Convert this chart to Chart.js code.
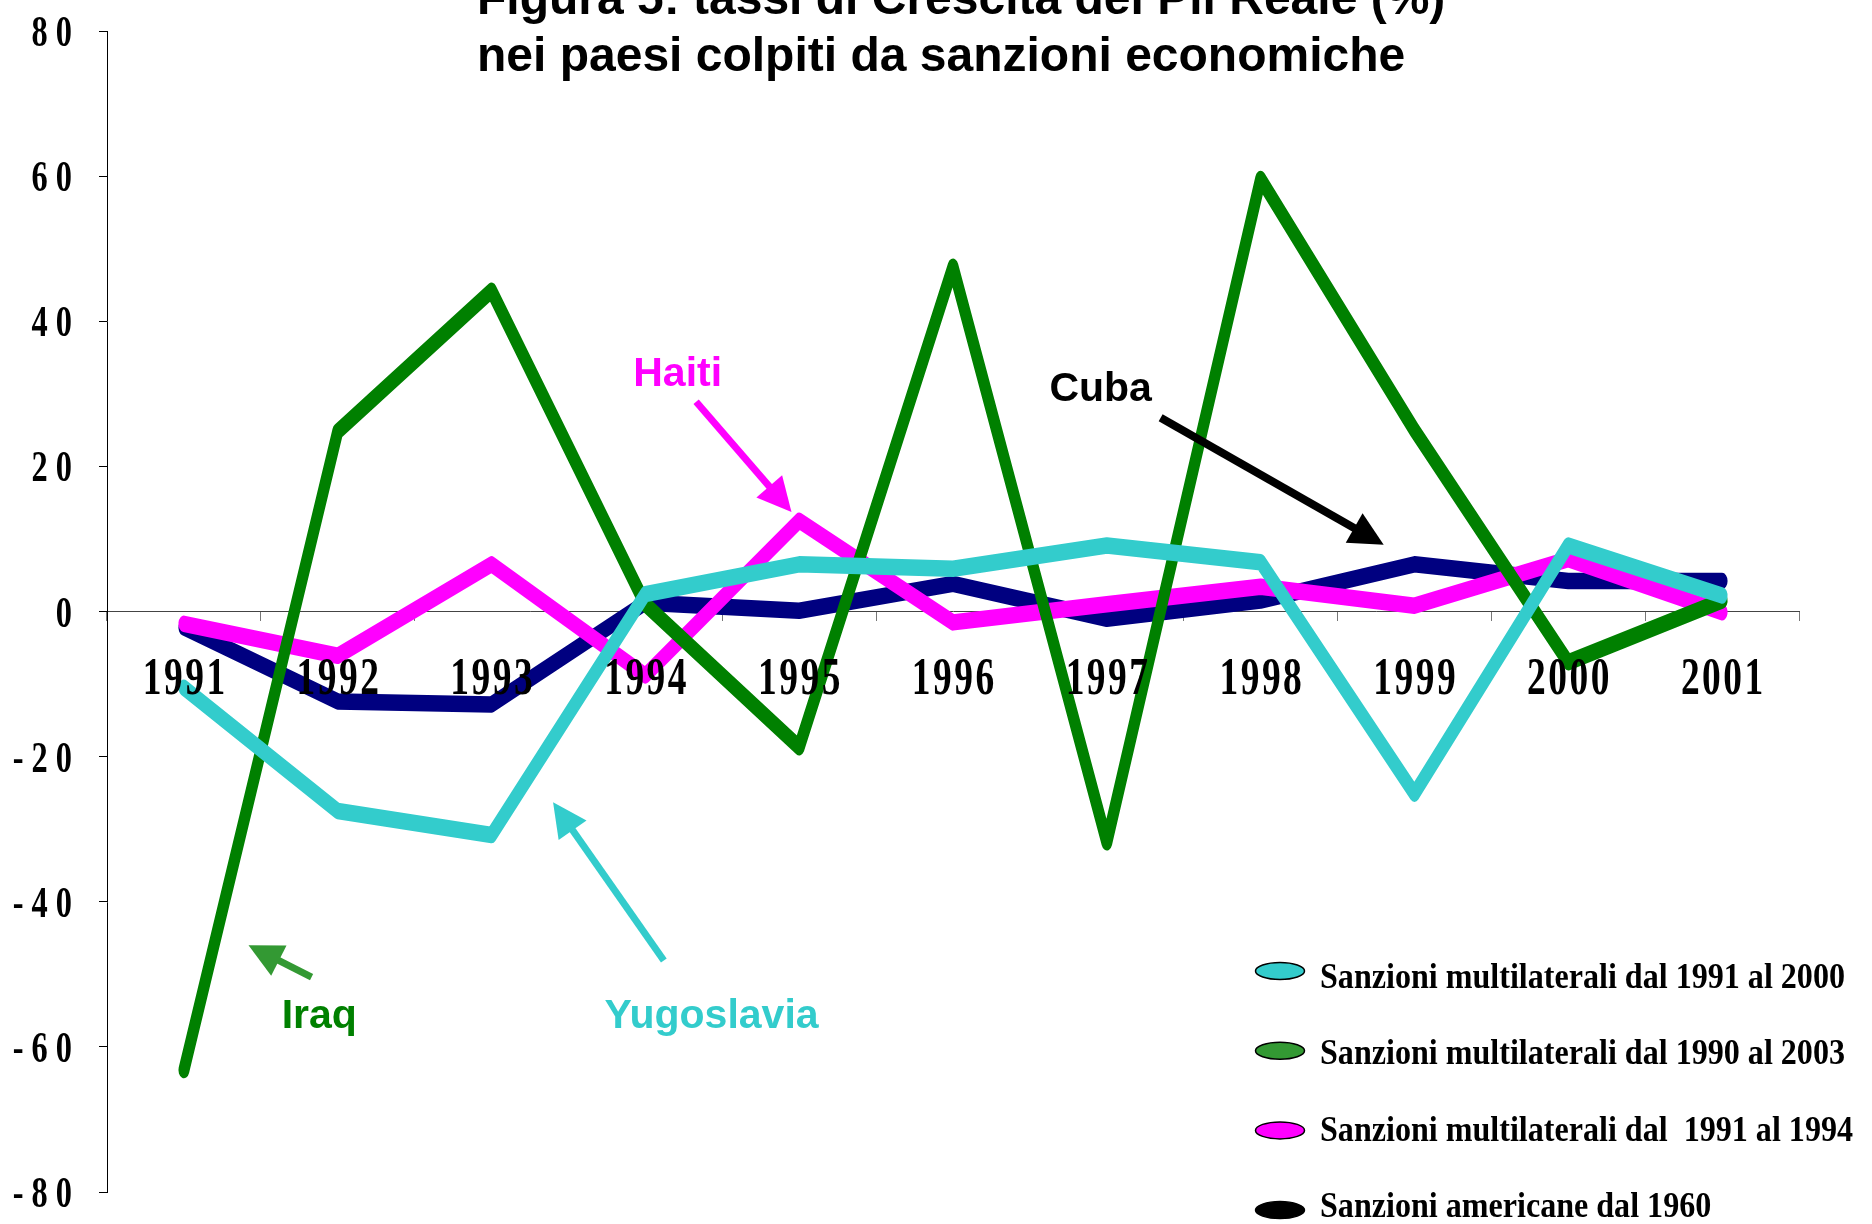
<!DOCTYPE html>
<html><head><meta charset="utf-8">
<script src="https://cdn.jsdelivr.net/npm/chart.js@4/dist/chart.umd.min.js"></script>
<style>html,body{margin:0;padding:0;background:#fff;overflow:hidden}#wrap{width:1872px;height:1224px;position:relative}</style>
</head><body><div id="wrap"><canvas id="c"></canvas></div>
<script>
// ---- data ----
const years = ['1991','1992','1993','1994','1995','1996','1997','1998','1999','2000','2001'];
const yugoslavia = [-10.5, -27.5, -30.8, 2.4, 6.5, 5.9, 9.1, 6.8, -25.1, 9.1, 2.2];
const iraq       = [-63.2, 24.8, 44.2, 1.0, -18.7, 47.5, -31.8, 59.6, 25.0, -7.0, 1.5];
const haiti      = [-1.7, -6.1, 6.5, -8.8, 12.5, -1.5, 1.0, 3.4, 0.8, 7.2, -0.1];
const cuba       = [-2.2, -12.4, -12.8, 1.2, 0.1, 3.8, -1.0, 1.5, 6.5, 4.2, 4.2];
const yMin = -80, yMax = 80, yStep = 20;
const legendLabels = [
  'Sanzioni multilaterali dal 1991 al 2000',
  'Sanzioni multilaterali dal 1990 al 2003',
  'Sanzioni multilaterali dal  1991 al 1994',
  'Sanzioni americane dal 1960'
];
const titleLines = ['Figura 5: tassi di Crescita del Pil Reale (%)', 'nei paesi colpiti da sanzioni economiche'];
const countryNames = ['Yugoslavia', 'Iraq', 'Haiti', 'Cuba'];
// annotation anchors in data space: [category index, value]
const labelAnchors = [[3.43, -57.4], [0.88, -57.4], [3.21, 31.1], [5.96, 29.0]];
const arrowFrom    = [[3.12, -48.1], [0.83, -50.4], [3.33, 28.9], [6.35, 26.7]];
const arrowTo      = [[2.40, -26.3], [0.42, -46.0], [3.95, 13.7], [7.80, 9.2]];

// ---- styles ----
const lineColors   = ['#33CCCC', '#008000', '#FF00FF', '#000080'];
const legendColors = ['#33CCCC', '#339933', '#FF00FF', '#000000'];
const noteColors   = ['#33CCCC', '#008000', '#FF00FF', '#000000'];
const arrowColors  = ['#33CCCC', '#339933', '#FF00FF', '#000000'];
const SERIF = '"Liberation Serif","Times New Roman",serif';
const SANS = '"Liberation Sans",Arial,sans-serif';
const STRETCH_Y = 1.5;

function spacedText(ctx, s, x, y, font, sx, spacing, align, color) {
  ctx.save();
  ctx.font = font; ctx.fillStyle = color; ctx.textAlign = 'left'; ctx.textBaseline = 'alphabetic';
  const chars = [...s];
  const w = chars.map(c => ctx.measureText(c).width * sx);
  const total = w.reduce((a, b) => a + b, 0) + spacing * (chars.length - 1);
  let cx = align === 'center' ? x - total / 2 : align === 'right' ? x - total : x;
  chars.forEach((c, i) => {
    ctx.save(); ctx.translate(cx, y); ctx.scale(sx, 1); ctx.fillText(c, 0, 0); ctx.restore();
    cx += w[i] + spacing;
  });
  ctx.restore();
}
function scaledText(ctx, s, x, y, font, sx, align, color) {
  ctx.save();
  ctx.font = font; ctx.fillStyle = color; ctx.textBaseline = 'alphabetic'; ctx.textAlign = 'left';
  const w = ctx.measureText(s).width * sx;
  const x0 = align === 'center' ? x - w / 2 : align === 'right' ? x - w : x;
  ctx.translate(x0, y); ctx.scale(sx, 1); ctx.fillText(s, 0, 0);
  ctx.restore();
}
function arrow(ctx, x1, y1, x2, y2, color, lw, hl, hw) {
  const a = Math.atan2(y2 - y1, x2 - x1);
  const bx = x2 - hl * Math.cos(a), by = y2 - hl * Math.sin(a);
  ctx.save();
  ctx.strokeStyle = color; ctx.fillStyle = color; ctx.lineWidth = lw; ctx.lineCap = 'butt';
  ctx.beginPath(); ctx.moveTo(x1, y1); ctx.lineTo(bx + 2 * Math.cos(a), by + 2 * Math.sin(a)); ctx.stroke();
  ctx.beginPath(); ctx.moveTo(x2, y2);
  ctx.lineTo(bx + hw * Math.sin(a), by - hw * Math.cos(a));
  ctx.lineTo(bx - hw * Math.sin(a), by + hw * Math.cos(a));
  ctx.closePath(); ctx.fill();
  ctx.restore();
}

// stroke lines with an anisotropic pen (thicker vertically) like the reference
const stretchPen = {
  id: 'stretchPen',
  beforeDatasetsDraw(chart) {
    const ctx = chart.ctx;
    const orig = ctx.stroke;
    ctx._origStroke = orig;
    ctx.stroke = function (p) {
      this.save();
      this.scale(1, STRETCH_Y);
      if (p instanceof Path2D) {
        const q = new Path2D();
        q.addPath(p, new DOMMatrix([1, 0, 0, 1 / STRETCH_Y, 0, 0]));
        orig.call(this, q);
      } else {
        orig.call(this);
      }
      this.restore();
    };
  },
  afterDatasetsDraw(chart) {
    const ctx = chart.ctx;
    if (ctx._origStroke) { ctx.stroke = ctx._origStroke; delete ctx._origStroke; }
  }
};

const decor = {
  id: 'decor',
  afterDraw(chart) {
    const ctx = chart.ctx;
    const xs = chart.scales.x, ys = chart.scales.y;
    const zero = ys.getPixelForValue(0);
    // x tick labels
    years.forEach((lab, i) => {
      spacedText(ctx, lab, xs.getPixelForValue(i), zero + 82, 'bold 52px ' + SERIF, 0.72, 2.5, 'center', '#000');
    });
    // y tick labels
    ys.ticks.forEach(t => {
      const py = ys.getPixelForValue(t.value);
      spacedText(ctx, String(t.value), 72, py + 15, 'bold 45px ' + SERIF, 0.72, 8, 'right', '#000');
    });
    // annotations
    countryNames.forEach((n, i) => {
      const [fi, fv] = arrowFrom[i], [ti, tv] = arrowTo[i];
      arrow(ctx, xs.getPixelForValue(fi), ys.getPixelForValue(fv), xs.getPixelForValue(ti), ys.getPixelForValue(tv),
        arrowColors[i], i === 3 ? 8 : 7, 34, 17);
      const [li, lv] = labelAnchors[i];
      scaledText(ctx, n, xs.getPixelForValue(li), ys.getPixelForValue(lv), 'bold 41px ' + SANS, 1, 'center', noteColors[i]);
    });
    // title
    titleLines.forEach((t, i) => {
      scaledText(ctx, t, 477, 14 + i * 57, 'bold 48px ' + SANS, 1, 'left', '#000');
    });
    // legend
    ctx.save();
    ctx.font = 'bold 35px ' + SERIF;
    const lsx = 525 / ctx.measureText(legendLabels[0]).width;
    ctx.restore();
    legendLabels.forEach((lab, i) => {
      const cy = 971 + i * 79.7;
      ctx.save();
      ctx.beginPath();
      ctx.ellipse(1280, cy, 24.5, 8.5, 0, 0, Math.PI * 2);
      ctx.fillStyle = legendColors[i]; ctx.fill();
      ctx.lineWidth = 1.5; ctx.strokeStyle = '#000'; ctx.stroke();
      ctx.restore();
      scaledText(ctx, lab, 1320, 988 + i * 76.3, 'bold 35px ' + SERIF, lsx, 'left', '#000');
    });
  }
};

const series = [yugoslavia, iraq, haiti, cuba];
new Chart(document.getElementById('c'), {
  type: 'line',
  data: {
    labels: years,
    datasets: series.map((d, i) => ({
      label: legendLabels[i],
      data: d,
      borderColor: lineColors[i],
      backgroundColor: lineColors[i],
      borderWidth: 11,
      pointRadius: 0,
      pointHoverRadius: 0,
      tension: 0,
      fill: false,
      borderCapStyle: 'round',
      borderJoinStyle: 'round'
    }))
  },
  options: {
    responsive: true,
    maintainAspectRatio: false,
    devicePixelRatio: 1,
    animation: false,
    events: [],
    layout: { padding: { left: 0, right: 73, top: 31, bottom: 32 } },
    plugins: { legend: { display: false }, tooltip: { enabled: false }, title: { display: false } },
    scales: {
      x: {
        type: 'category',
        position: { y: 0 },
        offset: true,
        afterFit(s) { s.height = 0; },
        ticks: { display: false },
        grid: { display: true, drawOnChartArea: false, drawTicks: true, tickLength: 9, offset: true, color: '#777', lineWidth: 1 },
        border: { display: true, color: '#444', width: 1 }
      },
      y: {
        position: 'left',
        min: yMin, max: yMax,
        afterFit(s) { s.width = 107; },
        ticks: { display: false, stepSize: yStep },
        grid: { display: true, drawOnChartArea: false, drawTicks: true, tickLength: 8, color: '#000', lineWidth: 1 },
        border: { display: true, color: '#000', width: 1 }
      }
    }
  },
  plugins: [stretchPen, decor]
});
</script>
</body></html>
